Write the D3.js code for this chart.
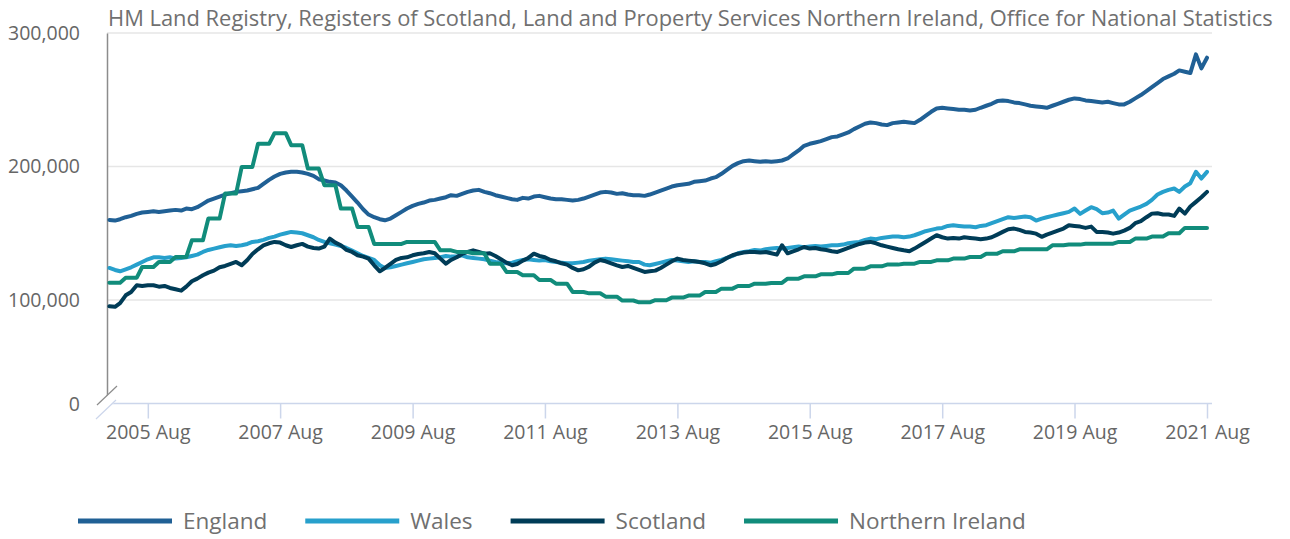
<!DOCTYPE html>
<html>
<head>
<meta charset="utf-8">
<script src="https://cdn.jsdelivr.net/npm/d3@7"></script>
<style>
  body { margin: 0; background: #fff; }
  svg { display: block; font-family: 'Open Sans', sans-serif; }
</style>
</head>
<body>
<svg id="chart"></svg>
<script>
const sourceTitle = 'HM Land Registry, Registers of Scotland, Land and Property Services Northern Ireland, Office for National Statistics';
const seriesNames = ['England', 'Wales', 'Scotland', 'Northern Ireland'];
const seriesColors = ['#206095', '#27a0cc', '#003c57', '#118c7b'];
const tickLabels = ['2005 Aug', '2007 Aug', '2009 Aug', '2011 Aug', '2013 Aug',
  '2015 Aug', '2017 Aug', '2019 Aug', '2021 Aug'];
const yTicks = [0, 100, 200, 300];  // thousands
const firstMonth = '2005 Jan';
const lastMonth = '2021 Aug';

// average price, £ thousands, monthly Jan 2005 - Aug 2021 (one row per year)
const england = [
  160, 159.5, 160.5, 162, 163, 164.5, 165.5, 166, 166.5, 166, 166.5, 167,
  167.5, 167, 168.5, 168, 169.5, 172, 174.5, 176, 177.5, 179, 180, 181,
  181.5, 182, 183, 184, 187, 190, 192.5, 194.5, 195.5, 196, 196, 195.5,
  194.5, 193, 190.5, 189.5, 188.5, 188, 186, 182, 177.5, 173, 168, 164,
  162, 160.5, 159.7, 161, 163.5, 166, 168.5, 170.5, 172, 173, 174.5, 175,
  176, 177, 178.5, 178, 179.5, 181, 182, 182.5, 181, 180, 178.5, 177.5,
  176.5, 175.5, 175, 176.5, 176, 177.5, 178, 177, 176, 175.5, 175.5, 175,
  174.5, 175, 176, 177.5, 179, 180.5, 181, 180.5, 179.5, 180, 179, 178.5,
  178.5, 178, 179, 180.5, 182, 183.5, 185, 186, 186.5, 187, 188.5, 189,
  189.5, 191, 192, 194.5, 197.5, 200.5, 202.5, 204, 204.5, 204, 203.5, 204,
  203.5, 204, 204.5, 206, 209, 212, 215.5, 217, 218, 219, 220.5, 222,
  222.5, 224, 225.5, 228, 230, 232, 233, 232.5, 231.5, 231, 232.5, 233,
  233.5, 233, 232.5, 235, 238, 241, 243.5, 244, 243.5, 243, 242.5, 242.5,
  242, 242.5, 244, 245.5, 247, 249, 249.5, 249, 248, 247.5, 246.5, 245.5,
  245, 244.5, 244, 245.5, 247, 248.5, 250, 251, 250.5, 249.5, 249, 248.5,
  248, 248.5, 247.5, 246.5, 246.5, 248.5, 251, 253.5, 256.5, 259.5, 262.5, 265.5,
  267.5, 269.5, 272, 271, 270, 284, 273.5, 281.5
];
const wales = [
  124, 122.5, 121.5, 123, 124.5, 126.5, 128.5, 130.5, 132, 132, 131.5, 132,
  131, 131.5, 132, 133, 134, 136, 137.5, 138.5, 139.5, 140.5, 141, 140.5,
  141, 142, 143.5, 144, 145, 146.5, 147.5, 149, 150, 151, 150.5, 150,
  148.5, 147, 145, 143.5, 142.5, 141.5, 140.5, 139, 137, 135, 133, 131.5,
  130, 126, 124, 124.5, 125.5, 126.5, 127.5, 128.5, 129.5, 130.5, 131, 131.5,
  132, 133, 132.5, 132.5, 133.5, 132, 131.5, 131, 130.5, 129.5, 128.5, 128,
  127.5, 128, 129, 130, 130.5, 130, 129.5, 130, 129, 128.5, 128, 127.5,
  127.5, 128, 128.5, 129.5, 130, 130.5, 131, 130.5, 130, 129.5, 129, 128.5,
  128.5, 126.5, 126, 127, 128, 129, 130, 129.5, 129, 128.5, 129, 128.5,
  128.5, 128, 129, 130, 131.5, 133, 135, 136, 136.5, 137.5, 137, 138,
  138.5, 139, 138.5, 139, 139.5, 140, 139.5, 140, 140.5, 140, 140.5, 141,
  141, 141.5, 142.5, 143, 143.5, 145, 146, 145.5, 146.5, 147, 147.5, 147.5,
  147, 147.5, 148.5, 150, 151.5, 152.5, 153.5, 154, 155.5, 156, 155.5, 155,
  155, 154.5, 155.5, 156, 157.5, 159, 160.5, 162, 161.5, 162, 162.5, 162,
  159.5, 161, 162, 163, 164, 165, 166, 168.5, 164.5, 167, 169.5, 168,
  165, 165.5, 167, 161, 164, 167, 168.5, 170, 172, 175, 179, 181,
  182.5, 183.5, 181, 185, 187.5, 196, 191, 196
];
const scotland = [
  94, 93.5, 97, 103.5, 106, 111, 110.5, 111, 111, 110, 110.5, 109,
  108, 107, 110, 114, 116, 118.5, 120.5, 122, 124.5, 125.5, 127, 128.5,
  126, 130, 134.5, 138, 141, 142.5, 143.5, 143, 141, 139.7, 141, 142,
  140, 139, 138.5, 140, 146, 143, 141, 137.5, 136, 133.5, 132.5, 131,
  126, 121.5, 124, 127, 130, 131.5, 132, 133.5, 134.5, 135, 136, 135,
  131, 127.2, 130, 132, 134.5, 136, 137.2, 136, 134.7, 135, 133, 130.5,
  128, 126, 127, 129.5, 131.5, 134.7, 133, 132, 130, 129, 127.5, 126.5,
  124, 122.2, 123, 125, 128, 130, 129, 127.5, 126, 124.7, 125.5, 124,
  122.5, 121, 121.5, 122, 124, 126.5, 129, 131, 130, 129.5, 129, 128.5,
  127.5, 126, 127, 129, 131.5, 133.5, 134.7, 135.5, 136, 136, 135.5, 136,
  135, 134, 141, 135, 136.5, 138, 139.7, 138.5, 139, 138, 137.5, 136.5,
  136, 137.5, 139, 140.5, 142, 143, 143.5, 142.5, 141, 140, 139, 138,
  137.2, 136.5, 138.5, 141, 143.5, 146, 148.5, 147, 146, 146.5, 146, 147,
  146.5, 146, 145.5, 146, 147, 149, 151, 153, 153.5, 152.5, 151, 150.5,
  149.7, 147.3, 149, 150.5, 152, 153.5, 156, 155.5, 155, 154, 155, 151,
  151, 150.5, 149.7, 150.5, 152, 154, 157.5, 159, 162, 164.7, 165, 164,
  164, 163, 168.5, 164.7, 170, 173.5, 177, 181
];
// Northern Ireland is published quarterly, Q1 2005 - Q3 2021
const northernIreland = [
  113, 116.7, 124.7, 128.5,
  132.2, 144.7, 161, 179.7,
  199.7, 217, 225, 216,
  198.5, 186, 168.5, 154.7,
  142, 142, 143.5, 143.5,
  137.2, 136, 135, 127.2,
  121, 118.5, 115, 112.2,
  106, 105, 102.5, 99.5,
  97.8, 99.8, 101.8, 103.3,
  106, 108.5, 110.5, 112.2,
  112.8, 116, 117.7, 119.2,
  120.2, 123.5, 125.2, 126.5,
  127.2, 128.5, 129.7, 131,
  132.2, 134.7, 136.5, 138,
  138, 141, 141.5, 142.2,
  142.2, 143.5, 146, 147.5,
  150, 154, 154
];

const width = 1290;
const height = 539;
const margin = { top: 33, left: 107, right: 1212, axis: 404 };

const parseMonth = d3.timeParse('%Y %b');
const months = d3.timeMonth.range(parseMonth(firstMonth), d3.timeMonth.offset(parseMonth(lastMonth), 1));
const niMonthly = months.map((d, i) => northernIreland[Math.floor(i / 3)]);
const seriesValues = [england, wales, scotland, niMonthly];

const svg = d3.select('#chart')
  .attr('width', width)
  .attr('height', height);

const x = d3.scaleTime()
  .domain([months[0], months[months.length - 1]])
  .range([109.4, 1207]);

// broken axis: 0 sits at the bottom, the scale runs on from 100,000
const y = d3.scaleLinear()
  .domain([0, 100, 300])
  .range([margin.axis, 300, margin.top]);

// gridlines
svg.append('g')
  .selectAll('line')
  .data(yTicks.filter(d => d > 0))
  .enter().append('line')
    .attr('x1', margin.left)
    .attr('x2', margin.right)
    .attr('y1', d => y(d))
    .attr('y2', d => y(d))
    .attr('stroke', '#e6e6e6')
    .attr('stroke-width', 1.5);

// title
svg.append('text')
  .attr('x', 108)
  .attr('y', 26)
  .attr('font-size', 21.9)
  .attr('fill', '#707070')
  .text(sourceTitle);

// y axis
const yAxis = svg.append('g')
  .attr('transform', `translate(${margin.left},0)`)
  .call(d3.axisLeft(y)
    .tickValues(yTicks)
    .tickSize(0)
    .tickPadding(27)
    .tickFormat(d => d3.format(',')(d * 1000)));
yAxis.select('.domain')
  .attr('stroke', '#8c8c8c')
  .attr('stroke-width', 1.5);
yAxis.selectAll('text')
  .attr('font-size', 19.5)
  .attr('font-family', 'Open Sans')
  .attr('fill', '#666');

// x axis
const tickDates = tickLabels.map(parseMonth);
const xAxis = svg.append('g')
  .attr('transform', `translate(0,${margin.axis - 0.5})`)
  .call(d3.axisBottom(x)
    .tickValues(tickDates)
    .tickSize(15)
    .tickPadding(7)
    .tickSizeOuter(0)
    .tickFormat(d3.timeFormat('%Y %b')));
xAxis.select('.domain')
  .attr('d', `M${margin.left},0H${margin.right}`)
  .attr('stroke', '#ccd6eb')
  .attr('stroke-width', 1.5);
xAxis.selectAll('.tick line')
  .attr('stroke', '#ccd6eb')
  .attr('stroke-width', 1.5);
xAxis.selectAll('text')
  .attr('font-size', 19.5)
  .attr('font-family', 'Open Sans')
  .attr('fill', '#666');

// axis break marks
const brk = svg.append('g');
brk.append('polygon')
  .attr('points', '97,405 117,386 117,400 97,419')
  .attr('fill', '#fff');
brk.append('line')
  .attr('x1', 97).attr('y1', 405).attr('x2', 117).attr('y2', 386)
  .attr('stroke', '#8c8c8c').attr('stroke-width', 1.2);
brk.append('line')
  .attr('x1', 96).attr('y1', 419).attr('x2', 116).attr('y2', 400)
  .attr('stroke', '#ccd6eb').attr('stroke-width', 1.2);

// lines
const line = d3.line()
  .x((d, i) => x(months[i]))
  .y(d => y(d));

svg.append('g')
  .selectAll('path')
  .data(seriesValues)
  .enter().append('path')
    .attr('d', line)
    .attr('fill', 'none')
    .attr('stroke', (d, i) => seriesColors[i])
    .attr('stroke-width', 4)
    .attr('stroke-linejoin', 'round')
    .attr('stroke-linecap', 'round');

// legend
const legend = svg.append('g')
  .attr('transform', 'translate(78,521)');
let legendX = 0;
seriesNames.forEach((name, i) => {
  const item = legend.append('g')
    .attr('transform', `translate(${legendX},0)`);
  item.append('line')
    .attr('x1', 0).attr('x2', 94)
    .attr('stroke', seriesColors[i])
    .attr('stroke-width', 5);
  const label = item.append('text')
    .attr('x', 105)
    .attr('dy', '0.35em')
    .attr('font-size', 22.5)
    .attr('fill', '#707070')
    .text(name);
  legendX += 105 + label.node().getComputedTextLength() + 38;
});
</script>
</body>
</html>
